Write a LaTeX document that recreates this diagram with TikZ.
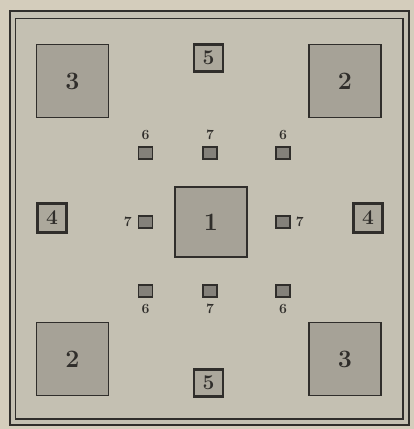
\documentclass[tikz,border=0pt]{standalone}
\usepackage{tikz}
\definecolor{pagebg}{RGB}{212,205,188}
\definecolor{fieldbg}{RGB}{196,192,178}
\definecolor{bigfill}{RGB}{166,162,151}
\definecolor{dotfill}{RGB}{132,129,122}
\definecolor{ink}{RGB}{48,46,43}

\begin{document}
\begin{tikzpicture}[x=1pt, y=-1pt,
	every node/.style={text=ink, font=\bfseries},
	bigsq/.style={draw=ink, line width=1.7pt, fill=bigfill, minimum width=72pt, minimum height=73pt, inner sep=0pt, font=\fontsize{25}{25}\selectfont\bfseries},
	boxsq/.style={draw=ink, line width=2.4pt, fill=bigfill!80!fieldbg, minimum width=29pt, minimum height=27pt, inner sep=0pt, font=\fontsize{21}{21}\selectfont\bfseries},
	dotsq/.style={draw=ink, line width=1.3pt, fill=dotfill, minimum width=14pt, minimum height=12pt, inner sep=0pt},
	numlab/.style={font=\fontsize{14}{14}\selectfont\bfseries, inner sep=1pt}]
	\fill[pagebg] (0,0) rectangle (414,429);
	\useasboundingbox (0,0) rectangle (414,429);
	% frame
	\fill[fieldbg] (10,11) rectangle (409,425);
	\draw[ink, line width=2.8pt] (10,11) rectangle (409,425);
	\draw[ink, line width=1.6pt] (15.5,18.5) rectangle (403,419);
	% large squares
	\node[bigsq] (tl) at (72.5,81) {3};
	\node[bigsq] (tr) at (345,81) {2};
	\node[bigsq] (bl) at (72.5,359) {2};
	\node[bigsq] (br) at (345,359) {3};
	\node[bigsq, minimum height=70pt] (mid) at (211,222) {1};
	% framed boxes
	\node[boxsq] (top5) at (208.5,58) {5};
	\node[boxsq] (bot5) at (208.5,383) {5};
	\node[boxsq, minimum height=29pt] (left4) at (52,218) {4};
	\node[boxsq, minimum height=29pt] (right4) at (368,218) {4};
	% small squares
	\foreach \n/\x/\t in {a/145.5/6, b/210/7, c/283/6} {
		\node[dotsq] (up\n) at (\x,153) {};
		\node[numlab, above=5pt] at (up\n.north) {\t};
		\node[dotsq] (dn\n) at (\x,291) {};
		\node[numlab, below=5pt] at (dn\n.south) {\t};
	}
	\node[dotsq] (ml) at (145.5,222) {};
	\node[numlab, left=5pt] at (ml.west) {7};
	\node[dotsq] (mr) at (283,222) {};
	\node[numlab, right=4pt] at (mr.east) {7};
\end{tikzpicture}
\end{document}
